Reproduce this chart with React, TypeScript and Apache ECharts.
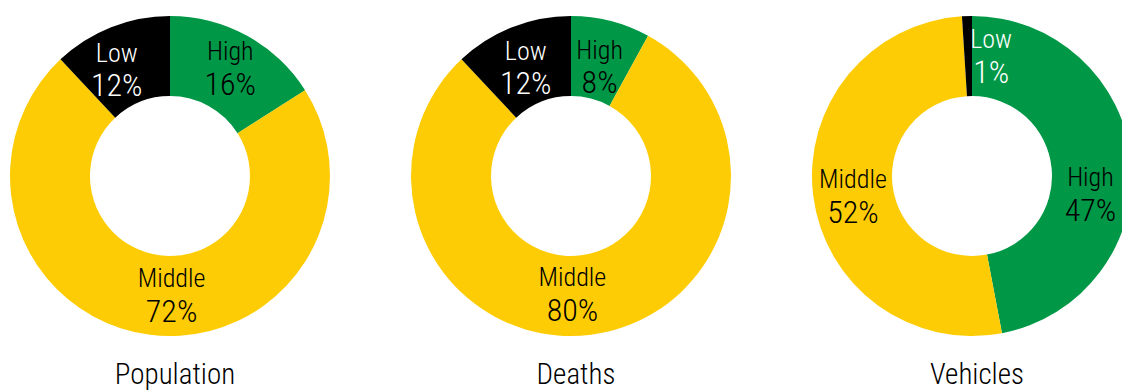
import React, { useEffect, useRef } from "react";
import * as echarts from "echarts";

const categories = ["High", "Middle", "Low"];
const populationValues = [16, 72, 12];
const deathsValues = [8, 80, 12];
const vehiclesValues = [47, 52, 1];
const chartTitles = ["Population", "Deaths", "Vehicles"];

const COLORS = ["#009846", "#FDCC04", "#000000"];
const FONT = "'Roboto Condensed', 'Liberation Sans Narrow', 'DejaVu Sans Condensed', 'Liberation Sans', sans-serif";

// label offsets (dx, dy) from default inside position, per chart per slice
const labelOffsets = [
  [[1, 0], [17, -3], [-8, 8]],
  [[-2, 10], [-14, -4], [0, 6]],
  [[-4, 30], [3, 5], [23, 3]],
];
const labelColors = [
  ["#000", "#000", "#fff"],
  ["#000", "#000", "#fff"],
  ["#000", "#000", "#fff"],
];

const centers = [
  [170, 176],
  [571, 176],
  [972, 176],
];

export default function App() {
  const ref = useRef<HTMLDivElement>(null);
  useEffect(() => {
    document.body.style.margin = "0";
    if (!ref.current) return;
    const chart = echarts.init(ref.current, undefined, { renderer: "svg" });
    const allValues = [populationValues, deathsValues, vehiclesValues];
    const series = allValues.map((vals, si) => ({
      type: "pie",
      center: centers[si],
      radius: [80, 160],
      startAngle: 90,
      clockwise: true,
      avoidLabelOverlap: false,
      labelLine: { show: false },
      itemStyle: { borderWidth: 0 },
      emphasis: { disabled: true },
      data: vals.map((v, i) => ({
        name: categories[i],
        value: v,
        itemStyle: { color: COLORS[i] },
        label: {
          show: true,
          position: "inside",
          formatter: "{n|{b}}\n{p|{c}%}",
          rich: {
            n: { fontFamily: FONT, fontWeight: 300, fontSize: 26, lineHeight: 31, color: labelColors[si][i] },
            p: { fontFamily: FONT, fontWeight: 300, fontSize: 32, lineHeight: 34, color: labelColors[si][i] },
          },
        },
      })),
      labelLayout: (params: any) => {
        const off = labelOffsets[si][params.dataIndex];
        return { dx: off[0], dy: off[1] };
      },
    }));
    chart.setOption({
      animation: false,
      title: chartTitles.map((t, i) => ({
        text: t,
        left: centers[i][0],
        top: 354,
        textAlign: "center",
        textStyle: { fontFamily: FONT, fontSize: 29, fontWeight: 300, color: "#000" },
      })),
      series,
    });
    return () => chart.dispose();
  }, []);
  return <div ref={ref} style={{ width: 1122, height: 390 }} />;
}
